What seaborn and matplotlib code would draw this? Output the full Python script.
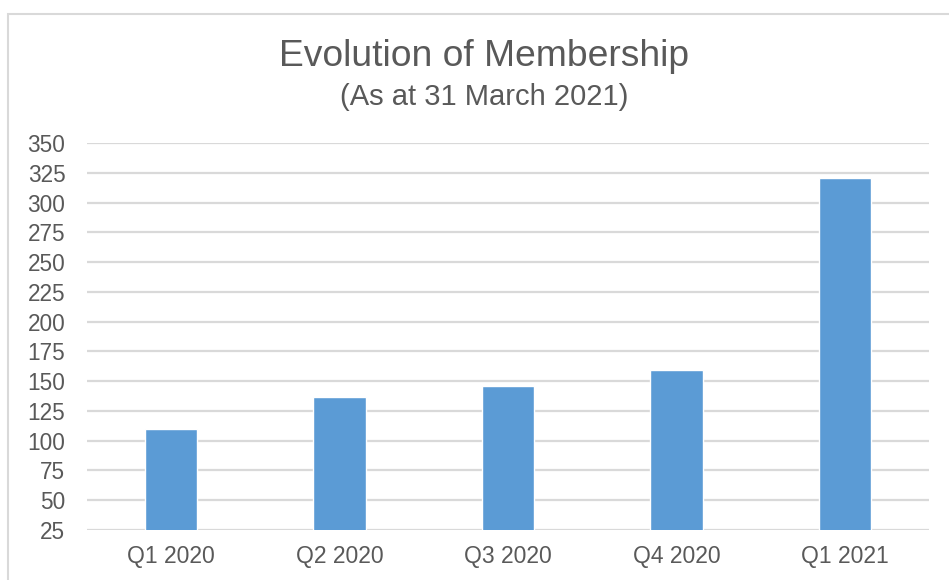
import matplotlib
matplotlib.use("Agg")
import matplotlib.pyplot as plt
import seaborn as sns
import pandas as pd
from matplotlib.patches import Rectangle

quarters = ["Q1 2020", "Q2 2020", "Q3 2020", "Q4 2020", "Q1 2021"]
members = [110, 137, 146, 159, 321]
yticks = list(range(25, 351, 25))

sns.set_theme(style="white")
plt.rcParams['font.family'] = ['Liberation Sans', 'DejaVu Sans']

TXT = "#595959"
GRID = "#d9d9d9"
BAR = "#5B9BD5"

fig = plt.figure(figsize=(9.49, 5.80), dpi=100)
ax = fig.add_axes([87/949, 1-530/580, (929-87)/949, (530-143)/580])

df = pd.DataFrame({"quarter": quarters, "members": members})
sns.barplot(data=df, x="quarter", y="members", color=BAR, width=0.31,
            saturation=1, ax=ax, zorder=3)

ax.set_ylim(25, 350)
ax.set_xlim(-0.5, 4.5)
ax.set_yticks(yticks)
ax.set_xlabel("")
ax.set_ylabel("")
ax.grid(axis="y", color=GRID, linewidth=1.6, zorder=0)
ax.set_axisbelow(True)
for s in ax.spines.values():
    s.set_visible(False)
ax.tick_params(axis="y", length=0, pad=15.5, labelsize=16.3, labelcolor=TXT)
ax.tick_params(axis="x", length=0, pad=11, labelsize=16.5, labelcolor=TXT)

fig.text(484/949, 1-57/580, "Evolution of Membership", ha="center", va="center",
         fontsize=26.8, color=TXT)
fig.text(484/949, 1-97/580, "(As at 31 March 2021)", ha="center", va="center",
         fontsize=21, color=TXT)

fig.patches.append(Rectangle((8/949, -0.1), 1.2, 1 - 14/580 + 0.1, transform=fig.transFigure,
                             fill=False, edgecolor=GRID, linewidth=1.5))

fig.savefig("out.png", dpi=100)
